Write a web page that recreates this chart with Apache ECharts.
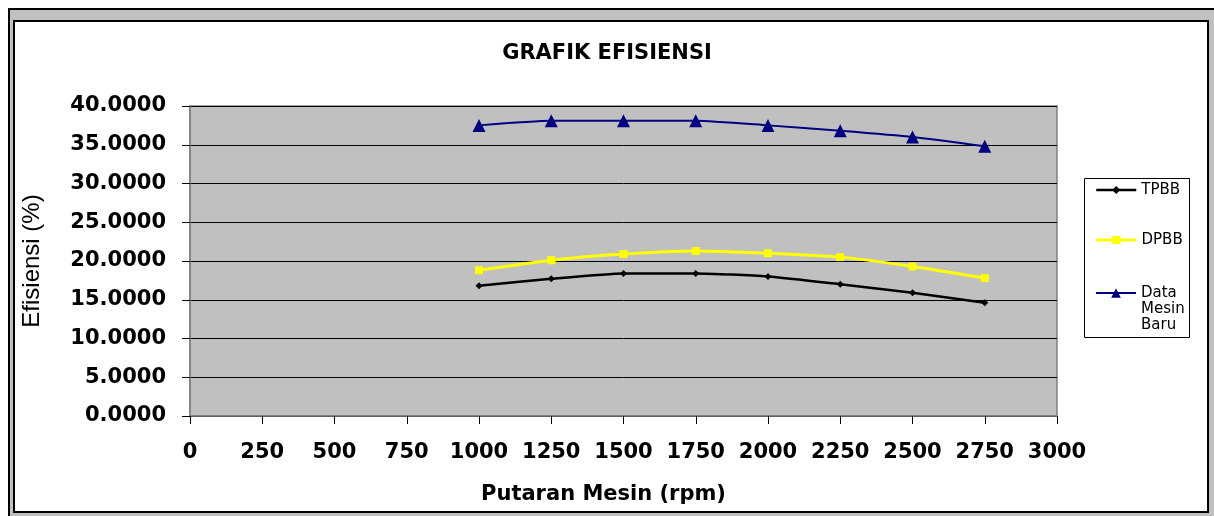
<!DOCTYPE html>
<html>
<head>
<meta charset="utf-8">
<script src="https://cdn.jsdelivr.net/npm/echarts@6/dist/echarts.min.js"></script>
<style>
    body { margin: 0; background: #fff; }
    #outer {
        position: absolute; left: 8px; top: 8px; width: 1220px; height: 520px;
        background: #c0c0c0; border: 2px solid #000;
    }
    #inner {
        position: absolute; left: 13px; top: 20px; width: 1192px; height: 489px;
        background: #fff; border: 2px solid #000;
    }
    #chart { position: absolute; left: 0; top: 0; width: 1214px; height: 516px; }
</style>
</head>
<body>
<div id="outer"></div>
<div id="inner"></div>
<div id="chart"></div>
<script>
var rpm = [1000, 1250, 1500, 1750, 2000, 2250, 2500, 2750]
var tpbb = [16.8, 17.7, 18.4, 18.4, 18.0, 17.0, 15.9, 14.6]
var dpbb = [18.8, 20.1, 20.9, 21.3, 21.0, 20.5, 19.3, 17.8]
var mesinBaru = [37.5, 38.1, 38.1, 38.1, 37.5, 36.8, 36.0, 34.8]

function pairs(vals) {
    return rpm.map(function (r, i) { return [r, vals[i]] })
}

var labelFont = { fontFamily: "DejaVu Sans", fontWeight: "bold", fontSize: 21, color: "#000" }
var legendText = { fontFamily: "DejaVu Sans", fontSize: 15, color: "#000", lineHeight: 16 }

var chart = echarts.init(document.getElementById("chart"))

var option = {
    animation: false,
    title: {
        text: "GRAFIK EFISIENSI",
        left: "center",
        top: 38,
        textStyle: { fontFamily: "DejaVu Sans", fontWeight: "bold", fontSize: 21, color: "#000" }
    },
    grid: {
        left: 190, right: 157, top: 106, bottom: 100,
        show: true,
        backgroundColor: "#c0c0c0",
        borderColor: "#808080",
        borderWidth: 1.5
    },
    xAxis: {
        type: "value",
        min: 0, max: 3000, interval: 250,
        name: "Putaran Mesin (rpm)",
        nameLocation: "middle",
        nameGap: 68,
        nameTextStyle: Object.assign({}, labelFont, { padding: [0, 40, 0, 0] }),
        axisLine: { show: true, lineStyle: { color: "#808080", width: 1.5 } },
        axisTick: { show: true, length: 8, lineStyle: { color: "#000" } },
        axisLabel: Object.assign({
            margin: 26,
            formatter: function (v) { return String(v) }
        }, labelFont),
        splitLine: { show: false }
    },
    yAxis: {
        type: "value",
        min: 0, max: 40, interval: 5,
        name: "Efisiensi (%)",
        nameLocation: "middle",
        nameRotate: 90,
        nameGap: 146,
        nameTextStyle: { fontFamily: "Liberation Sans", fontSize: 24, color: "#000" },
        axisLine: { show: true, lineStyle: { color: "#808080", width: 1.5 } },
        axisTick: { show: true, length: 8, lineStyle: { color: "#000" } },
        axisLabel: Object.assign({
            margin: 24,
            formatter: function (v) { return v.toFixed(4) }
        }, labelFont),
        splitLine: { show: true, lineStyle: { color: "#000", width: 1 } }
    },
    legend: [
        {
            data: ["TPBB"], orient: "vertical", left: 1095, top: 182, padding: 0,
            itemWidth: 40, itemHeight: 10, textStyle: legendText,
            lineStyle: { width: "inherit" }
        },
        {
            data: ["DPBB"], orient: "vertical", left: 1095, top: 232, padding: 0,
            itemWidth: 40, itemHeight: 10, textStyle: legendText,
            lineStyle: { width: "inherit" }
        },
        {
            data: ["Data Mesin Baru"], orient: "vertical", left: 1095, top: 253, padding: 0,
            itemWidth: 40, itemHeight: 12, textStyle: legendText,
            lineStyle: { width: "inherit" },
            formatter: function () { return " \n \nData\nMesin\nBaru" }
        }
    ],
    graphic: [
        {
            type: "rect",
            shape: { x: 1084.5, y: 178.5, width: 105, height: 159 },
            style: { fill: null, stroke: "#000", lineWidth: 1 }
        }
    ],
    series: [
        {
            name: "TPBB", type: "line", data: pairs(tpbb),
            smooth: 0.2, symbol: "diamond", symbolSize: 7,
            itemStyle: { color: "#000" },
            lineStyle: { color: "#000", width: 2.5 }
        },
        {
            name: "DPBB", type: "line", data: pairs(dpbb),
            smooth: 0.2, symbol: "rect", symbolSize: 8,
            itemStyle: { color: "#ffff00" },
            lineStyle: { color: "#ffff00", width: 3 }
        },
        {
            name: "Data Mesin Baru", type: "line", data: pairs(mesinBaru),
            smooth: 0.2, symbol: "triangle", symbolSize: 13,
            itemStyle: { color: "#000080" },
            lineStyle: { color: "#000080", width: 2 }
        }
    ]
}
chart.setOption(option)
</script>
</body>
</html>
